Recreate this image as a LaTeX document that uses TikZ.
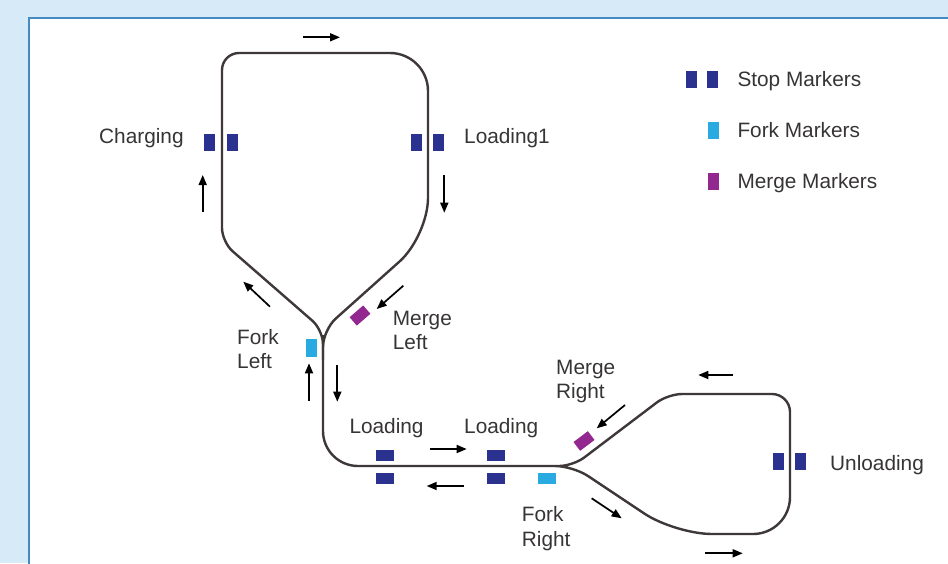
\documentclass[tikz,border=0pt]{standalone}
\usepackage{fontspec}
\setmainfont{Liberation Sans}
\usetikzlibrary{arrows.meta}
\definecolor{bgblue}{RGB}{214,234,248}
\definecolor{frameblue}{RGB}{70,138,196}
\definecolor{trackgray}{RGB}{62,56,56}
\definecolor{stopblue}{RGB}{43,49,143}
\definecolor{forkcyan}{RGB}{41,171,226}
\definecolor{mergepurple}{RGB}{146,39,143}
\definecolor{labelgray}{RGB}{55,52,52}
\begin{document}
\begin{tikzpicture}[x=1pt,y=-1pt,
  track/.style={draw=trackgray,line width=2.4pt,line join=round},
  dirarrow/.style={draw=black,line width=1.7pt,-{Triangle[length=10pt,width=8pt]}},
  marker/.style={rectangle,inner sep=0pt,draw=none},
  stopv/.style={marker,fill=stopblue,minimum width=11pt,minimum height=17pt},
  stoph/.style={marker,fill=stopblue,minimum width=18pt,minimum height=11pt},
  forkv/.style={marker,fill=forkcyan,minimum width=11pt,minimum height=18pt},
  forkh/.style={marker,fill=forkcyan,minimum width=18pt,minimum height=11pt},
  mergev/.style={marker,fill=mergepurple,minimum width=11pt,minimum height=17pt},
  mergem/.style={marker,fill=mergepurple,minimum width=18pt,minimum height=11pt},
  lbl/.style={inner sep=0pt,text=labelgray,font=\fontsize{20.8}{24.5}\selectfont},
  lbl2/.style={lbl,align=left},
]
% page and panel
\useasboundingbox (0,0) rectangle (948,563);
\fill[bgblue] (0,0) rectangle (948,563);
\draw[frameblue,fill=white,line width=2pt] (29,18) rectangle (960,575);

% upper loop (charging / loading1)
\draw[track] (323,360) [rounded corners=14pt] -- (323,330) -- (222,242)
  [rounded corners=17pt] -- (222,53) [rounded corners=38pt] -- (428,53) -- (428,236)
  [rounded corners=17pt] -- (323,330) [rounded corners=14pt] -- (323,360);

% main line and right loop (unloading)
\draw[track] (323,335) [rounded corners=35pt] -- (323,466) [rounded corners=14pt] -- (573,466)
  -- (668,394) [rounded corners=18pt] -- (790,394) [rounded corners=37pt] -- (790,534)
  -- (675,534) [rounded corners=18pt] -- (573,466) [rounded corners=14pt] -- (545,466);

% stop markers
\node[stopv] (chgA) at (209.7,142.5) {};
\node[stopv] (chgB) at (232.2,142.5) {};
\node[stopv] (ldoA) at (416,142.5) {};
\node[stopv] (ldoB) at (438,142.5) {};
\node[stopv] (unlA) at (778.7,461.7) {};
\node[stopv] (unlB) at (800.8,461.7) {};
\node[stoph] (ldaA) at (385,455.5) {};
\node[stoph] (ldaB) at (385,478) {};
\node[stoph] (ldbA) at (496,455.5) {};
\node[stoph] (ldbB) at (496,478) {};

% fork and merge markers
\node[forkv] (fkl) at (311,348) {};
\node[forkh] (fkr) at (547,478) {};
\node[mergem,rotate=41] (mgl) at (360,315.5) {};
\node[mergem,rotate=37] (mgr) at (584,441) {};

% direction arrows
\draw[dirarrow] (303,37.3) -- (340,37.3);
\draw[dirarrow] (202.7,211.7) -- (202.7,175);
\draw[dirarrow] (444.3,175) -- (444.3,212.7);
\draw[dirarrow] (270,306.7) -- (243.3,281.7);
\draw[dirarrow] (403.3,285.7) -- (376.7,309);
\draw[dirarrow] (309,400.7) -- (309,363.3);
\draw[dirarrow] (337.3,365) -- (337.3,401.7);
\draw[dirarrow] (430,449) -- (466.7,449);
\draw[dirarrow] (464,486) -- (426.7,486);
\draw[dirarrow] (591.7,498.3) -- (621.7,518.3);
\draw[dirarrow] (625,405) -- (596.7,428.3);
\draw[dirarrow] (733.3,375) -- (698.3,375);
\draw[dirarrow] (705,553.3) -- (742.7,553.3);

% labels
\node[lbl,anchor=base west] (tchg) at (99,143) {Charging};
\node[lbl,anchor=base west] (tld1) at (464,143) {Loading1};
\node[lbl2,anchor=west] (tfkl) at (237,349) {Fork\\Left};
\node[lbl2,anchor=west] (tmgl) at (392.7,330.5) {Merge\\Left};
\node[lbl,anchor=base west] (tlda) at (349.3,433.3) {Loading};
\node[lbl,anchor=base west] (tldb) at (464,433.3) {Loading};
\node[lbl2,anchor=west] (tfkr) at (521.7,528.4) {Fork\\Right};
\node[lbl2,anchor=west] (tmgr) at (556,381.5) {Merge\\Right};
\node[lbl,anchor=base west] (tunl) at (830,470) {Unloading};

% legend
\node[stopv] (lgsA) at (691,79.5) {};
\node[stopv] (lgsB) at (712.5,79.5) {};
\node[forkv,minimum height=17pt] (lgf) at (713,130.5) {};
\node[mergev] (lgm) at (713,181.7) {};
\node[lbl,anchor=base west] (tlgs) at (737.3,86.7) {Stop Markers};
\node[lbl,anchor=base west] (tlgf) at (737.3,137.3) {Fork Markers};
\node[lbl,anchor=base west] (tlgm) at (737.3,188.3) {Merge Markers};
\end{tikzpicture}
\end{document}
